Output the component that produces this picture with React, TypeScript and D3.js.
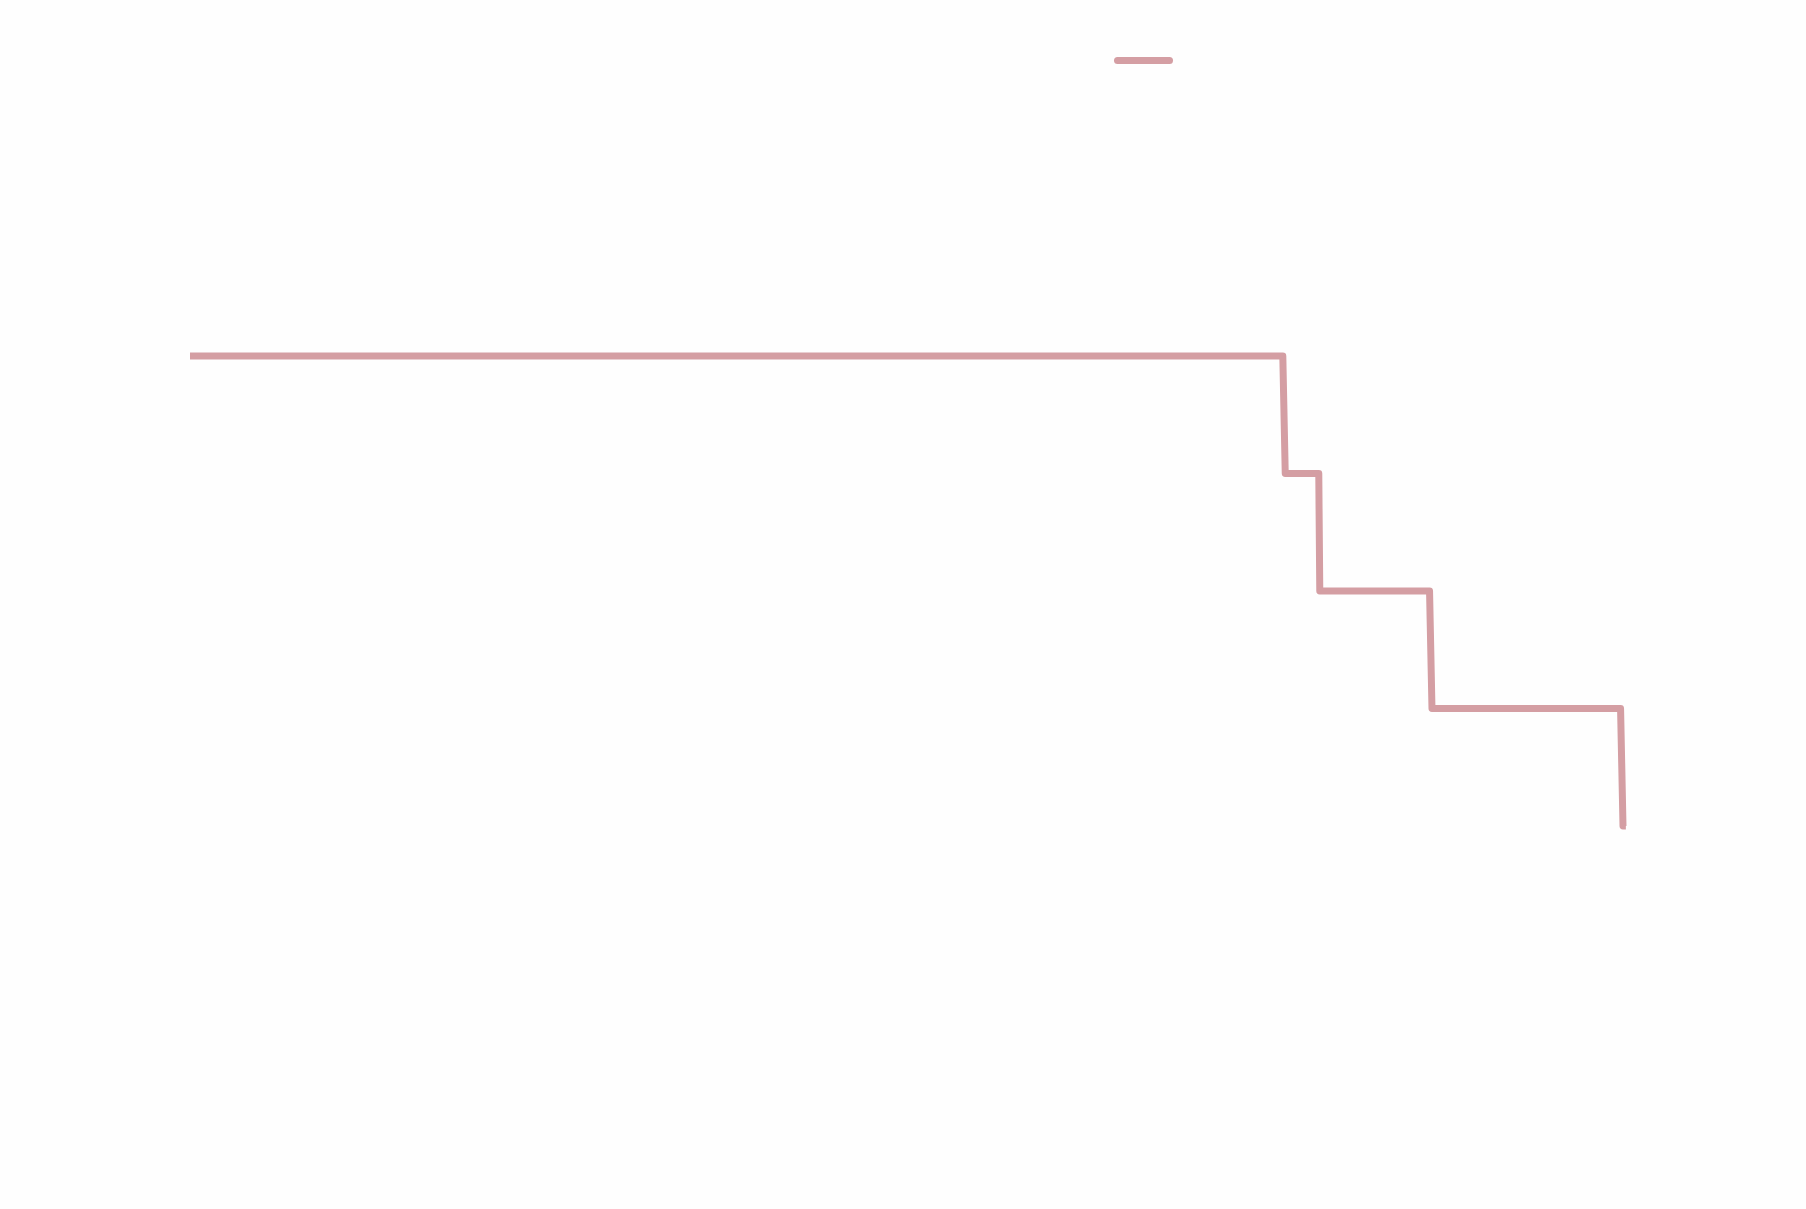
import React, { useEffect, useRef } from "react";
import * as d3 from "d3";

// step series: x position (time) and level
const times = [0, 76.26, 76.43, 78.77, 78.84, 86.5, 86.67, 99.83, 100, 100.2];
const levels = [4, 4, 3, 3, 2, 2, 1, 1, 0, 0];

const lineColor = "#d49ea3";

function App() {
  const svgRef = useRef<SVGSVGElement>(null);

  useEffect(() => {
    const width = 1806;
    const height = 1209;

    const svg = d3.select(svgRef.current)
      .attr("width", width)
      .attr("height", height)
      .style("background", "#fefefe");

    svg.selectAll("*").remove();

    // scales
    const x = d3.scaleLinear().domain([0, 100]).range([190, 1623]);
    const y = d3.scaleLinear().domain([0, 4]).range([826, 356]);

    const pts: [number, number][] = times.map((t, i) => [t, levels[i]]);

    const line = d3.line<[number, number]>()
      .x(d => x(d[0]))
      .y(d => y(d[1]))
      .curve(d3.curveLinear);

    svg.append("path")
      .datum(pts)
      .attr("d", line)
      .attr("fill", "none")
      .attr("stroke", lineColor)
      .attr("stroke-width", 7)
      .attr("stroke-linejoin", "round")
      .attr("stroke-linecap", "butt");

    // legend swatch
    svg.append("line")
      .attr("x1", 1117.5)
      .attr("x2", 1169.5)
      .attr("y1", 60.5)
      .attr("y2", 60.5)
      .attr("stroke", lineColor)
      .attr("stroke-width", 7)
      .attr("stroke-linecap", "round");
  }, []);

  return (
    <div style={{ position: "absolute", left: 0, top: 0 }}>
      <svg ref={svgRef} style={{ display: "block" }}></svg>
    </div>
  );
}

export default App;
